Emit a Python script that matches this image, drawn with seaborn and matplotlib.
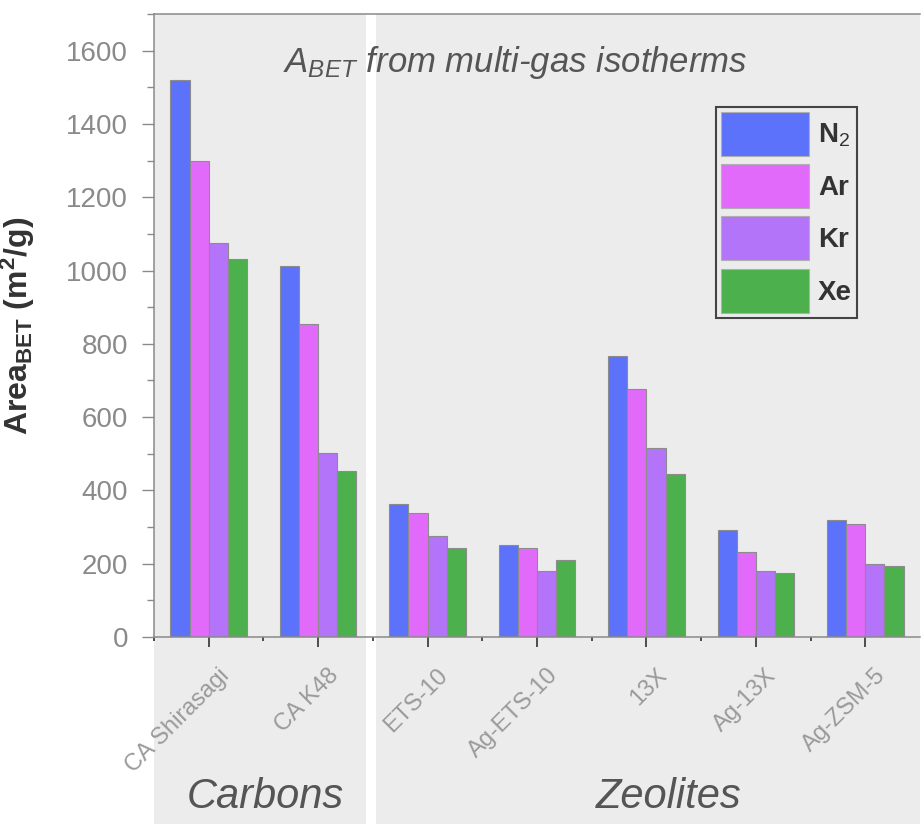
import matplotlib
matplotlib.use("Agg")
import matplotlib.pyplot as plt
from matplotlib.patches import Rectangle, Patch
from matplotlib.ticker import MultipleLocator, FixedLocator
from matplotlib.transforms import blended_transform_factory, ScaledTranslation
import pandas as pd
import seaborn as sns

# BET surface areas (m2/g) per adsorbent and probe gas
materials = ["CA Shirasagi", "CA K48", "ETS-10", "Ag-ETS-10", "13X", "Ag-13X", "Ag-ZSM-5"]
gases = ["N$_2$", "Ar", "Kr", "Xe"]
n2 = [1521, 1012, 363, 250, 766, 292, 320]
ar = [1300, 853, 338, 242, 676, 232, 307]
kr = [1076, 501, 275, 181, 516, 181, 200]
xe = [1032, 454, 244, 210, 445, 175, 194]
colors = ["#5c72fa", "#e26afa", "#b474fa", "#4cb04c"]

groups = ["Carbons", "Zeolites"]
group_spans = [(-0.5, 1.44), (1.53, 6.5)]

rows = []
for gas, vals in zip(gases, [n2, ar, kr, xe]):
    for m, v in zip(materials, vals):
        rows.append({"material": m, "gas": gas, "area": v})
df = pd.DataFrame(rows)

sns.set_style("white")
plt.rcParams["font.family"] = ["Liberation Sans", "DejaVu Sans"]
plt.rcParams["mathtext.fontset"] = "custom"
plt.rcParams["mathtext.rm"] = "Liberation Sans"
plt.rcParams["mathtext.it"] = "Liberation Sans:italic"
plt.rcParams["mathtext.bf"] = "Liberation Sans:bold"

W, H = 924, 824
fig = plt.figure(figsize=(W / 100, H / 100), dpi=100)
ax = fig.add_axes([154 / W, 187 / H, 766 / W, 623 / H])
ax.set_facecolor("white")

sns.barplot(data=df, x="material", y="area", hue="gas", order=materials,
            hue_order=gases, palette=colors, width=0.7, saturation=1,
            edgecolor="#8c8c8c", linewidth=0.8, errorbar=None,
            legend=False, ax=ax)

ax.set_xlim(-0.5, 6.5)
ax.set_ylim(0, 1700)

# shaded group panels running from the top of the plot to the bottom of the figure
trans = blended_transform_factory(ax.transData, fig.transFigure)
top = (H - 14) / H
for (x0, x1) in group_spans:
    r = Rectangle((x0, 0), x1 - x0, top, transform=trans, facecolor="#ececec",
                  edgecolor="none", zorder=0, clip_on=False)
    ax.add_artist(r)

for name, (x0, x1), cx in zip(groups, group_spans, [265.5 / W, 668.5 / W]):
    fig.text(cx, 16 / H, name, ha="center", va="baseline", fontsize=30,
             style="italic", color="#555555")

# spines
for s in ["left", "bottom", "top"]:
    ax.spines[s].set_visible(True)
    ax.spines[s].set_color("#8a8a8a")
    ax.spines[s].set_linewidth(1.1)
ax.spines["right"].set_visible(False)

# y axis
ax.yaxis.set_major_locator(MultipleLocator(200))
ax.yaxis.set_minor_locator(MultipleLocator(100))
ax.tick_params(axis="y", which="major", direction="out", length=8.6, width=1.0,
               color="#8a8a8a", labelsize=20, labelcolor="#8a8a8a", pad=10, left=True)
ax.tick_params(axis="y", which="minor", direction="out", length=5, width=1.0,
               color="#8a8a8a", left=True)
ax.set_ylabel(r"Area$_{\mathbf{BET}}$ (m$^{\mathbf{2}}$/g)", fontsize=23,
              fontweight="bold", color="#333333")
ax.yaxis.set_label_coords(-0.153, 0.5)

# x axis
ax.xaxis.set_minor_locator(FixedLocator([i - 0.5 for i in range(7)]))
ax.tick_params(axis="x", which="major", direction="out", length=7.2, width=1.1,
               color="#222222", labelsize=17, labelcolor="#9a9a9a", pad=12.5, bottom=True)
ax.tick_params(axis="x", which="minor", direction="out", length=2.9, width=1.1,
               color="#222222", bottom=True)
ax.set_xlabel("")
ax.set_xticks(range(len(materials)))
ax.set_xticklabels(materials, rotation=45, ha="right")
shift = ScaledTranslation(0.25, 0, fig.dpi_scale_trans)
for lbl in ax.get_xticklabels():
    lbl.set_transform(lbl.get_transform() + shift)

# heading inside the plot
ax.text(0.471, 0.907, r"$A_{BET}$ from multi-gas isotherms", transform=ax.transAxes,
        ha="center", va="baseline", fontsize=25, style="italic", color="#555555")

# legend
handles = [Patch(facecolor=c, edgecolor="#b0b0b0", linewidth=0.8) for c in colors]
leg = ax.legend(handles, gases, loc="upper right", bbox_to_anchor=(0.918, 0.851),
                borderaxespad=0, prop={"weight": "bold", "size": 20},
                handlelength=3.17, handleheight=2.06, handletextpad=0.32,
                labelspacing=0.3, borderpad=0.18, fancybox=False, framealpha=1,
                facecolor="#ececec", edgecolor="#444444")
leg.get_frame().set_linewidth(1.5)
for t in leg.get_texts():
    t.set_color("#333333")

fig.savefig("out.png", dpi=100)
